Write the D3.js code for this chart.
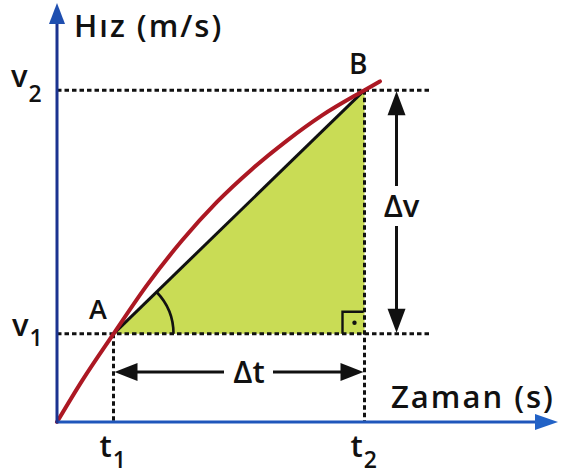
<!DOCTYPE html>
<html>
<head>
<meta charset="utf-8">
<script src="https://cdn.jsdelivr.net/npm/d3@7"></script>
<style>
  html, body { margin: 0; padding: 0; background: #fff; }
  svg { display: block; font-family: "Open Sans", Lato, sans-serif; font-weight: 600; }
</style>
</head>
<body>
<svg id="chart" width="562" height="475"></svg>
<script>
// Velocity–time curve (arbitrary units) and the two marked instants
const curveT = [0, 5, 11.3, 18, 25, 32, 39, 46, 53, 61.5, 64.6];
const curveV = [0, 9.8, 21, 32.6, 43.2, 52.4, 60.2, 67, 73, 79, 81.1];
const timeMarks = [11.3, 61.5];
const speedMarks = [21, 79];
const timeTickLabels = [["t", "1"], ["t", "2"]];
const speedTickLabels = [["v", "1"], ["v", "2"]];
const pointLabels = ["A", "B"];
const axisTitles = ["Zaman (s)", "Hız (m/s)"];

const svg = d3.select("#chart");
const x = d3.scaleLinear().domain([0, 100]).range([57, 557]);
const y = d3.scaleLinear().domain([0, 100]).range([422, 2]);

const [t1, t2] = timeMarks;
const [v1, v2] = speedMarks;
const curve = curveT.map((t, i) => [t, curveV[i]]);
const ink = "#111";

// shaded triangle under the chord AB
svg.append("path")
  .attr("d", d3.line()([[x(t1), y(v1)], [x(t2), y(v2)], [x(t2), y(v1)]]) + "Z")
  .attr("fill", "#c9dc55");

// guide lines
const guide = (x1, y1, x2, y2) => svg.append("line")
  .attr("x1", x1).attr("y1", y1).attr("x2", x2).attr("y2", y2)
  .attr("stroke", ink).attr("stroke-width", 3).attr("stroke-dasharray", "4.5,3");
guide(x(0), y(v2), x(75), y(v2));
guide(x(0), y(v1), x(75), y(v1));
guide(x(t1), y(v1), x(t1), y(0));
guide(x(t2), y(v2), x(t2), y(0));

// right-angle marker
svg.append("path")
  .attr("d", `M${x(t2) - 1},${y(v1) - 22} H${x(t2) - 22} V${y(v1)}`)
  .attr("fill", "none").attr("stroke", ink).attr("stroke-width", 2.4);
svg.append("circle").attr("cx", x(t2) - 10).attr("cy", y(v1) - 11).attr("r", 2.2).attr("fill", ink);

// chord AB
svg.append("line")
  .attr("x1", x(t1)).attr("y1", y(v1)).attr("x2", x(t2)).attr("y2", y(v2))
  .attr("stroke", ink).attr("stroke-width", 3);

// angle arc at A
const ang = Math.atan2(y(v1) - y(v2), x(t2) - x(t1));
const arc = d3.arc().innerRadius(60).outerRadius(60)
  .startAngle(Math.PI / 2 - ang).endAngle(Math.PI / 2);
svg.append("path").attr("transform", `translate(${x(t1)},${y(v1)})`)
  .attr("d", arc()).attr("fill", "none").attr("stroke", ink).attr("stroke-width", 2.6);

// velocity curve
svg.append("path")
  .attr("d", d3.line().x(d => x(d[0])).y(d => y(d[1])).curve(d3.curveMonotoneX)(curve))
  .attr("fill", "none").attr("stroke", "#ac1823").attr("stroke-width", 4).attr("stroke-linecap", "round");

// axes
const xAxis = svg.append("g").attr("transform", `translate(0,${y(0)})`)
  .call(d3.axisBottom(x).tickValues(timeMarks).tickSize(0).tickFormat(""));
xAxis.select(".domain").attr("d", `M${x(0) - 1},0H${x(96)}`).attr("stroke", "#1f56bb").attr("stroke-width", 3);
xAxis.selectAll(".tick text").remove();
const yAxis = svg.append("g").attr("transform", `translate(${x(0)},0)`)
  .call(d3.axisLeft(y).tickValues(speedMarks).tickSize(0).tickFormat(""));
yAxis.select(".domain").attr("d", `M0,${y(0) + 1}V${y(96)}`).attr("stroke", "#1b3390").attr("stroke-width", 3);
yAxis.selectAll(".tick text").remove();

// axis arrowheads
svg.append("path").attr("d", `M${x(100) + 1},${y(0)} l-23,-8 v16 Z`).attr("fill", "#2262c6");
svg.append("path").attr("d", `M${x(0)},${y(100) + 1} l-8,21 h16 Z`).attr("fill", "#1f4fb0");

// tick labels with subscripts
const subLabel = (px, py, parts, size, subSize, subShift) => {
  const t = svg.append("text").attr("x", px).attr("y", py).attr("font-size", size).attr("fill", ink);
  t.append("tspan").text(parts[0]);
  t.append("tspan").attr("dx", 1).attr("dy", subShift).attr("font-size", subSize).text(parts[1]);
};
timeMarks.forEach((tv, i) => subLabel(x(tv) - 14, 457, timeTickLabels[i], 31, 23, 11));
subLabel(12, y(v1) + 2, speedTickLabels[0], 31, 23, 10);
subLabel(11, y(v2) - 3, speedTickLabels[1], 31, 23, 15);

// axis titles
svg.append("text").attr("x", 391).attr("y", 408).attr("font-size", 31)
  .attr("letter-spacing", 2).attr("fill", ink).text(axisTitles[0]);
svg.append("text").attr("x", 74).attr("y", 37).attr("font-size", 31)
  .attr("letter-spacing", 2).attr("fill", ink).text(axisTitles[1]);

// point labels
svg.append("text").attr("x", 89).attr("y", 319).attr("font-size", 27).attr("fill", ink).text(pointLabels[0]);
svg.append("text").attr("x", 349).attr("y", 74).attr("font-size", 28).attr("fill", ink).text(pointLabels[1]);

// Δv and Δt dimension arrows
const dvx = x(t2) + 32;
svg.append("line").attr("x1", dvx).attr("y1", y(v2) + 15).attr("x2", dvx).attr("y2", 186).attr("stroke", ink).attr("stroke-width", 3);
svg.append("line").attr("x1", dvx).attr("y1", 226).attr("x2", dvx).attr("y2", y(v1) - 15).attr("stroke", ink).attr("stroke-width", 3);
svg.append("path").attr("d", `M${dvx},${y(v2) + 1} l-9,24 h18 Z`).attr("fill", ink);
svg.append("path").attr("d", `M${dvx},${y(v1) - 1} l-9,-24 h18 Z`).attr("fill", ink);
svg.append("text").attr("x", dvx + 5).attr("y", 217).attr("text-anchor", "middle").attr("font-size", 31).attr("fill", ink).text("Δv");

const dty = 372;
svg.append("line").attr("x1", x(t1) + 15).attr("y1", dty).attr("x2", 224).attr("y2", dty).attr("stroke", ink).attr("stroke-width", 3);
svg.append("line").attr("x1", 273).attr("y1", dty).attr("x2", x(t2) - 15).attr("y2", dty).attr("stroke", ink).attr("stroke-width", 3);
svg.append("path").attr("d", `M${x(t1) + 1},${dty} l23,-9 v18 Z`).attr("fill", ink);
svg.append("path").attr("d", `M${x(t2) - 1},${dty} l-23,-9 v18 Z`).attr("fill", ink);
svg.append("text").attr("x", 249).attr("y", 383).attr("text-anchor", "middle").attr("font-size", 31).attr("fill", ink).text("Δt");
</script>
</body>
</html>
